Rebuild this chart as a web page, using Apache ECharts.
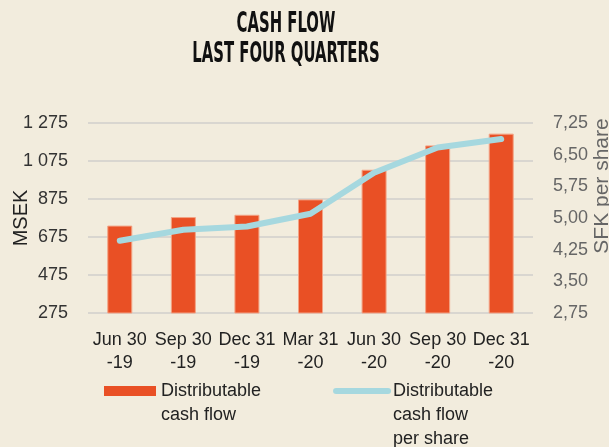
<!DOCTYPE html>
<html>
<head>
<meta charset="utf-8">
<script src="https://cdn.jsdelivr.net/npm/echarts@6/dist/echarts.min.js"></script>
<style>
  html, body { margin: 0; padding: 0; background: #F2ECDD; }
  #chart { width: 609px; height: 447px; }
</style>
</head>
<body>
<div id="chart"></div>
<script>
var quarters = ['Jun 30\n-19', 'Sep 30\n-19', 'Dec 31\n-19', 'Mar 31\n-20', 'Jun 30\n-20', 'Sep 30\n-20', 'Dec 31\n-20'];
var cashFlow = [735, 780, 792, 873, 1029, 1157, 1219];
var cashFlowPerShare = [4.46, 4.72, 4.80, 5.10, 6.07, 6.67, 6.87];
var leftTicks = [275, 475, 675, 875, 1075, 1275];
var rightTicks = [2.75, 3.5, 4.25, 5.0, 5.75, 6.5, 7.25];

var myChart = echarts.init(document.getElementById('chart'));

var font = "'Liberation Sans', Arial, sans-serif";
var titleFont = "'Liberation Sans Narrow', 'DejaVu Sans Condensed', sans-serif";

option = {
    backgroundColor: '#F2ECDD',
    textStyle: { fontFamily: font },
    graphic: [
        {
            type: 'text', x: 286, y: 25, scaleX: 0.59,
            style: { text: 'CASH FLOW', fontFamily: titleFont,
                     fontWeight: 'bold', fontSize: 28, fill: '#111', align: 'center', verticalAlign: 'middle' }
        },
        {
            type: 'text', x: 286, y: 55, scaleX: 0.59,
            style: { text: 'LAST FOUR QUARTERS', fontFamily: titleFont,
                     fontWeight: 'bold', fontSize: 28, fill: '#111', align: 'center', verticalAlign: 'middle' }
        },
        {
            type: 'text', x: 602, y: 186, rotation: Math.PI / 2,
            style: { text: 'SFK per share', fontFamily: font, fontSize: 21, fill: '#666',
                     align: 'center', verticalAlign: 'middle' }
        }
    ],
    grid: { left: 88, right: 76, top: 123, bottom: 134, containLabel: false, outerBoundsMode: 'none' },
    legend: {
        left: 99,
        top: 326,
        itemWidth: 52,
        itemHeight: 10,
        itemGap: 72,
        textStyle: { fontSize: 18, color: '#222', lineHeight: 24, fontFamily: font },
        // push the text down so its first line sits level with the icon
        formatter: function (name) {
            var n = name.split('\n').length;
            var pad = '';
            for (var i = 1; i < n; i++) pad += ' \n';
            return pad + name;
        },
        lineStyle: { width: 6, cap: 'round' },
        data: [
            { name: 'Distributable\ncash flow', icon: 'rect', itemStyle: { borderWidth: 0 } },
            { name: 'Distributable\ncash flow\nper share', itemStyle: { opacity: 0 } }
        ]
    },
    xAxis: {
        type: 'category',
        data: quarters,
        axisLine: { show: false },
        axisTick: { show: false },
        axisLabel: { color: '#222', fontSize: 18, lineHeight: 23, margin: 16, interval: 0 }
    },
    yAxis: [
        {
            type: 'value',
            min: 275,
            max: 1275,
            name: 'MSEK',
            nameLocation: 'middle',
            nameGap: 57,
            nameMoveOverlap: false,
            nameTextStyle: { fontSize: 20, color: '#222' },
            axisLine: { show: false },
            axisTick: { show: false, customValues: leftTicks },
            axisLabel: {
                customValues: leftTicks,
                color: '#333', fontSize: 18, margin: 20,
                formatter: function (v) { return String(v).replace(/\B(?=(\d{3})+(?!\d))/g, ' '); }
            },
            splitLine: { lineStyle: { color: '#D9D6D0', width: 2 } }
        },
        {
            type: 'value',
            min: 2.75,
            max: 7.25,
            position: 'right',
            axisLine: { show: false },
            axisTick: { show: false, customValues: rightTicks },
            axisLabel: {
                customValues: rightTicks,
                color: '#666', fontSize: 18, margin: 20,
                formatter: function (v) { return v.toFixed(2).replace('.', ','); }
            },
            splitLine: { show: false }
        }
    ],
    series: [
        {
            name: 'Distributable\ncash flow',
            type: 'bar',
            data: cashFlow,
            barWidth: 25,
            itemStyle: { color: '#E95025', borderColor: '#F3A385', borderWidth: 1 }
        },
        {
            name: 'Distributable\ncash flow\nper share',
            type: 'line',
            yAxisIndex: 1,
            data: cashFlowPerShare,
            symbol: 'none',
            lineStyle: { color: '#A6D8DF', width: 6, cap: 'round', join: 'round' },
            itemStyle: { color: '#A6D8DF' }
        }
    ]
};

myChart.setOption(option);
</script>
</body>
</html>
